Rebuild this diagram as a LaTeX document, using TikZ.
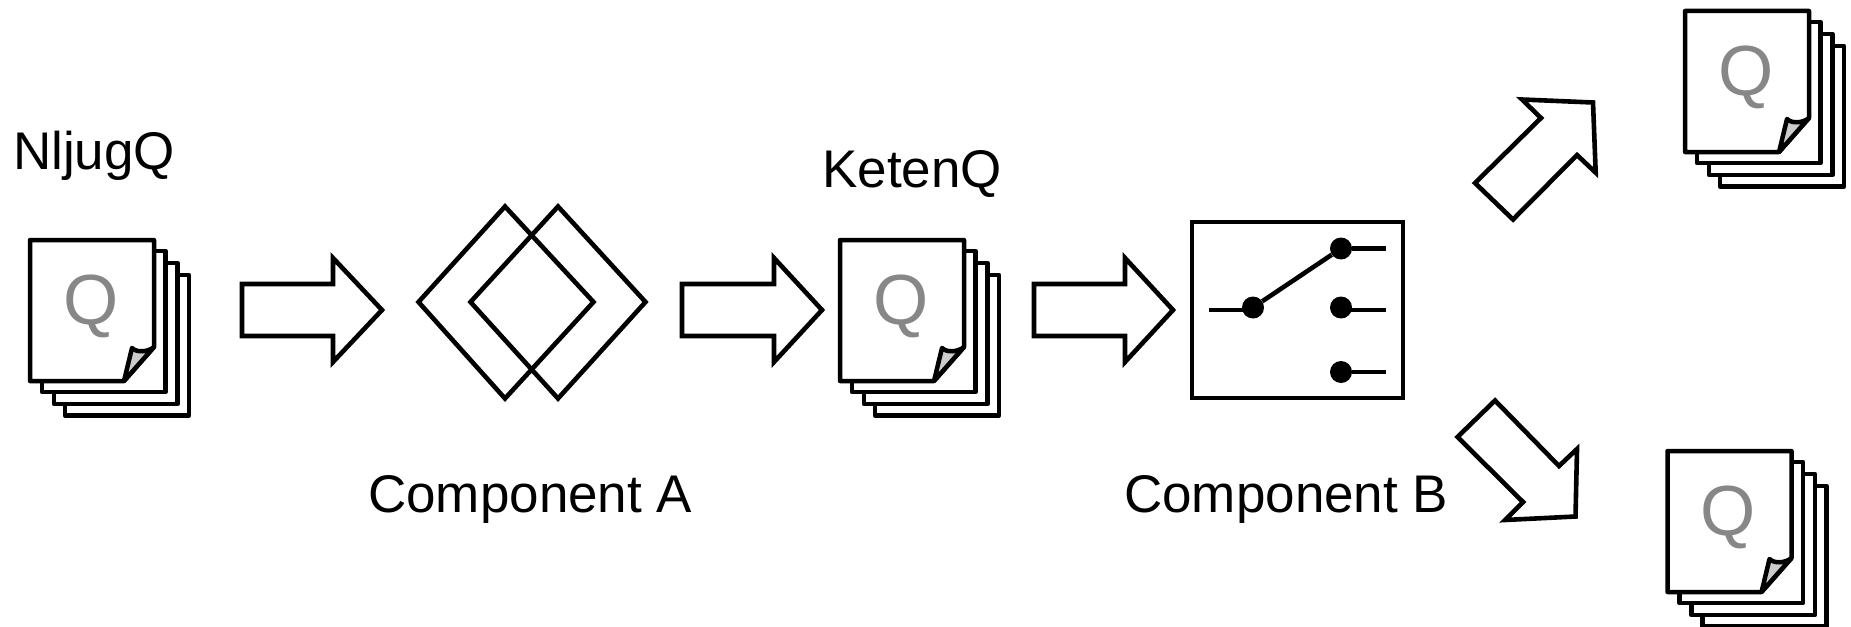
\documentclass[tikz,border=0pt]{standalone}
\usepackage{fontspec}
\setmainfont{Liberation Sans}
\tikzset{
  outline/.style={draw=black,line width=4.6pt,fill=white,line join=miter,miter limit=10},
  sheet/.style={draw=black,line width=4.5pt,fill=white,line join=round},
  foldcorner/.style={draw=black,line width=4.5pt,fill=black!20,line join=round},
  label/.style={font=\fontsize{53}{53}\selectfont,text=black,inner sep=0pt,anchor=base west},
  qmark/.style={font=\fontsize{71}{71}\selectfont,text=black!47,inner sep=0pt,anchor=base},
  contact/.style={circle,fill=black,draw=none,minimum size=22pt,inner sep=0pt},
  wire/.style={draw=black,line width=4.6pt},
  pics/docstack/.style={code={
    \draw[sheet] (65,275) -- (189,275) -- (189,415.5) -- (65,415.5) -- cycle;
    \draw[sheet] (54,263) -- (177.5,263) -- (177.5,404) -- (54,404) -- cycle;
    \draw[sheet] (42,251) -- (165.5,251) -- (165.5,392) -- (42,392) -- cycle;
    \draw[sheet] (30,240) -- (154,240) -- (154,347) -- (124,381) -- (30,381) -- cycle;
    \draw[foldcorner] (124,381) -- (132,348) .. controls (137,353) and (148,352) .. (154,347) -- cycle;
    \node[qmark] (-q) at (91,324) {Q};
  }}
}
\begin{document}
\begin{tikzpicture}[x=1pt,y=-1pt]
\useasboundingbox (0,0) rectangle (1851,626);
\fill[white] (0,0) rectangle (1851,626);

\pic (docA) at (0,0) {docstack};
\pic (docB) at (810,0) {docstack};
\pic (docC) at (1655,-229) {docstack};
\pic (docD) at (1637.5,211) {docstack};

\node[label] (nljug) at (13,169.5) {NljugQ};
\node[label] (keten) at (822,187) {KetenQ};
\node[label] (compA) at (368,512) {Component A};
\node[label] (compB) at (1124,512) {Component B};

% block arrows
\draw[outline] (242,284) -- (333,284) -- (333,258) -- (382,310) -- (333,362) -- (333,336) -- (242,336) -- cycle;
\draw[outline] (682,284) -- (774,284) -- (774,258) -- (822,310) -- (774,362) -- (774,336) -- (682,336) -- cycle;
\draw[outline] (1034,284) -- (1125,284) -- (1125,258) -- (1173,310) -- (1125,362) -- (1125,336) -- (1034,336) -- cycle;
\draw[outline] (1475,183) -- (1513,219.5) -- (1577,155) -- (1595.7,172.7) -- (1593,102.5) -- (1522,99.5) -- (1541,118) -- cycle;
\draw[outline] (1457.5,437) -- (1495,400.5) -- (1559,466) -- (1577,449) -- (1575.5,516.5) -- (1505,520) -- (1523,502) -- cycle;

% component A
\draw[outline,fill=none] (418.5,302) -- (505,206.5) -- (593.5,302) -- (505,398.5) -- cycle;
\draw[outline,fill=none] (470.5,302) -- (558,206.5) -- (645.5,302) -- (558,398.5) -- cycle;

% component B
\draw[outline] (1192,222) rectangle (1403,398);
\node[contact] (pivot) at (1253,307.5) {};
\node[contact] (c1) at (1341,248.5) {};
\node[contact] (c2) at (1341,307.5) {};
\node[contact] (c3) at (1341,372) {};
\coordinate (inp) at (1209,310);
\coordinate (o1) at (1386,248.5);
\coordinate (o2) at (1386,310);
\coordinate (o3) at (1386,372);
\draw[wire] (inp) -- (1253,310);
\draw[wire] (pivot) -- (c1);
\draw[wire] (c1) -- (o1);
\draw[wire] (1341,310) -- (o2);
\draw[wire] (c3) -- (o3);
\end{tikzpicture}
\end{document}
